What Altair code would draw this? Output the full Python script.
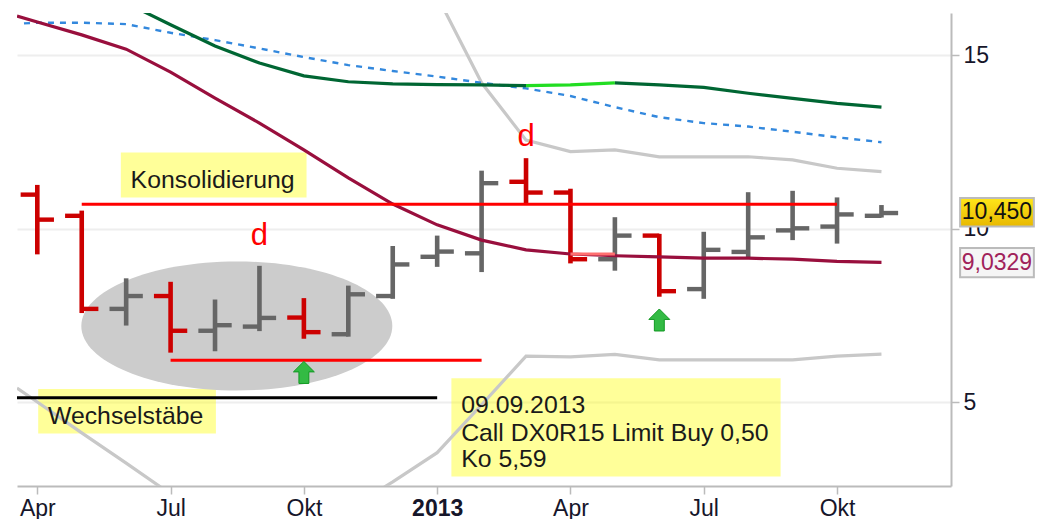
import altair as alt
import pandas as pd

FONT = "Liberation Sans"

# OHLC bars (x in months since Apr 2012)
bar_x = list(range(20))
bar_open = [10.98, 10.37, 7.69, 8.06, 7.06, 7.18, 7.44, 6.96, 8.06, 9.19, 9.29, 11.35, 11.04, 9.12, 9.80, 8.26, 9.33, 9.95, 10.06, 10.37]
bar_high = [11.26, 10.52, 8.57, 8.47, 7.96, 8.93, 8.00, 8.36, 9.50, 9.80, 11.67, 12.03, 11.15, 10.33, 9.85, 9.91, 11.05, 11.09, 10.90, 10.68]
bar_low = [9.26, 7.57, 7.21, 6.43, 6.47, 7.05, 6.83, 6.89, 7.98, 8.90, 8.75, 10.73, 9.00, 8.79, 8.04, 7.98, 9.15, 9.67, 9.57, 10.32]
bar_close = [10.26, 7.69, 8.06, 7.06, 7.22, 7.43, 7.02, 8.11, 8.97, 9.34, 11.31, 11.04, 9.12, 9.80, 8.20, 9.39, 9.75, 10.01, 10.41, 10.45]
bar_color = ["#CC0000", "#CC0000", "#666666", "#CC0000", "#666666", "#666666", "#CC0000", "#666666", "#666666", "#666666",
             "#666666", "#CC0000", "#CC0000", "#666666", "#CC0000", "#666666", "#666666", "#666666", "#666666", "#666666"]
tick_len = 0.375

# Lines
maroon_x = [-0.457, 0, 1, 2, 3, 4, 5, 6, 7, 8, 9, 10, 11, 12, 13, 14, 15, 16, 17, 18, 19]
maroon_y = [16.12, 15.95, 15.58, 15.17, 14.51, 13.76, 13.04, 12.27, 11.46, 10.71, 10.11, 9.67, 9.39, 9.27, 9.22, 9.19, 9.15, 9.15, 9.12, 9.06, 9.03]
green_a_x = [2, 3, 4, 5, 6, 7, 8, 9, 10, 11]
green_a_y = [16.50, 15.87, 15.26, 14.77, 14.40, 14.23, 14.17, 14.15, 14.14, 14.12]
lime_x = [11, 12, 13]
lime_y = [14.12, 14.14, 14.20]
green_b_x = [13, 14, 15, 16, 17, 18, 19]
green_b_y = [14.20, 14.14, 14.07, 13.90, 13.75, 13.61, 13.50]
blue_x = [-0.3, 0, 1, 2, 3, 4, 5, 6, 7, 8, 9, 10, 11, 12, 13, 14, 15, 16, 17, 18, 19]
blue_y = [15.91, 15.93, 15.93, 15.89, 15.64, 15.43, 15.19, 14.94, 14.71, 14.54, 14.38, 14.20, 14.04, 13.82, 13.50, 13.21, 13.04, 12.94, 12.79, 12.63, 12.49]
upper_x = [9, 9.2, 10, 11, 12, 13, 14, 15, 16, 17, 18, 19]
upper_y = [16.76, 16.20, 14.20, 12.55, 12.22, 12.27, 12.07, 12.07, 12.07, 11.98, 11.74, 11.64]
lower_a_x = [-0.457, 0, 1, 2, 3]
lower_a_y = [5.41, 5.01, 4.12, 3.25, 2.36]
lower_b_x = [7, 8, 9, 10, 11, 12, 13, 14, 15, 16, 17, 18, 19]
lower_b_y = [1.91, 2.71, 3.55, 4.93, 6.33, 6.31, 6.38, 6.22, 6.22, 6.22, 6.22, 6.33, 6.39]

# Horizontal drawn lines: start, end, level, colour, width
hline_x = [1, 3, -0.457, 12]
hline_x2 = [18, 10, 9, 13]
hline_y = [10.70, 6.21, 5.13, 9.27]
hline_color = ["#FF0000", "#FF0000", "#000000", "#FF7070"]

# Yellow note boxes
box_x = [1.88, 0.02, 9.32]
box_x2 = [6.06, 4.02, 16.73]
box_y = [12.19, 5.38, 5.69]
box_y2 = [10.90, 4.10, 2.86]

note_text = ["Konsolidierung", "Wechselstäbe", "09.09.2013", "Call DX0R15 Limit Buy 0,50", "Ko 5,59"]
note_x = [2.10, 0.24, 9.54, 9.54, 9.54]
note_y = [11.16, 4.37, 4.69, 3.90, 3.13]

d_x = [5, 11]
d_y = [9.53, 12.38]
arrow_x = [6, 14]
arrow_y = [5.86, 7.37]
ellipse_x = [4.49]
ellipse_y = [7.20]

tick_values = [0, 3, 6, 9, 12, 15, 18]
tick_labels = ["Apr", "Jul", "Okt", "2013", "Apr", "Jul", "Okt"]
y_ticks = [5, 10, 15]

X_DOM = [-0.457, 20.565]
Y_DOM = [2.59, 16.21]

x_scale = alt.Scale(domain=X_DOM, nice=False, zero=False)
y_scale = alt.Scale(domain=Y_DOM, nice=False, zero=False)

label_map = "{" + ",".join(f"'{v}':'{l}'" for v, l in zip(tick_values, tick_labels)) + "}"
x_axis = alt.Axis(
    orient="bottom", values=tick_values, labelExpr=f"{label_map}[datum.value]",
    title=None, grid=False, tickSize=8, tickColor="#BBBBBB", tickWidth=1.5,
    domainColor="#BBBBBB", domainWidth=2, labelFont=FONT, labelFontSize=23,
    labelColor="#16162a", labelPadding=3, labelFlush=False, labelOverlap=False,
    labelFontWeight={"condition": {"test": "datum.value == 9", "value": "bold"}, "value": "normal"},
)
y_axis = alt.Axis(
    orient="right", values=y_ticks, title=None, grid=True, gridColor="#EEEEEE", gridWidth=2,
    tickSize=8, tickColor="#BBBBBB", tickWidth=1.5, domainColor="#BBBBBB", domainWidth=2,
    labelFont=FONT, labelFontSize=23, labelColor="#16162a", labelPadding=4, labelFlush=False,
    labelOverlap=False,
)
X = lambda f: alt.X(f, type="quantitative", scale=x_scale, axis=x_axis)
Y = lambda f: alt.Y(f, type="quantitative", scale=y_scale, axis=y_axis)

boxes = alt.Chart(pd.DataFrame({"x": box_x, "x2": box_x2, "y": box_y, "y2": box_y2})).mark_rect(
    fill="#FFFF00", opacity=0.4).encode(x=X("x"), x2="x2", y=Y("y"), y2="y2")

ELLIPSE = ("M -1 0 C -1 -0.2291 -0.5523 -0.4148 0 -0.4148 C 0.5523 -0.4148 1 -0.2291 1 0 "
           "C 1 0.2291 0.5523 0.4148 0 0.4148 C -0.5523 0.4148 -1 0.2291 -1 0 Z")
ellipse = alt.Chart(pd.DataFrame({"x": ellipse_x, "y": ellipse_y})).mark_point(
    shape=ELLIPSE, filled=True, fill="#CCCCCC", opacity=1, strokeWidth=0, size=96721
).encode(x=X("x"), y=Y("y"))

bars_df = pd.DataFrame({"x": bar_x, "o": bar_open, "h": bar_high, "l": bar_low, "c": bar_close, "col": bar_color})
bars_df["xl"] = bars_df["x"] - tick_len
bars_df["xr"] = bars_df["x"] + tick_len
col = alt.Color("col:N", scale=None)
stems = alt.Chart(bars_df).mark_rule(strokeWidth=4.6).encode(x=X("x"), y=Y("h"), y2="l", color=col)
opens = alt.Chart(bars_df).mark_rule(strokeWidth=4.4).encode(x=X("xl"), x2="x", y=Y("o"), color=col)
closes = alt.Chart(bars_df).mark_rule(strokeWidth=4.4).encode(x=X("x"), x2="xr", y=Y("c"), color=col)


def line(xs, ys, color, width=3.2, **kw):
    return alt.Chart(pd.DataFrame({"x": xs, "y": ys})).mark_line(
        color=color, strokeWidth=width, clip=True, **kw
    ).encode(x=X("x"), y=Y("y"), order=alt.Order("o:Q")).transform_calculate(o="datum.x")


lines = [
    line(upper_x, upper_y, "#C8C8C8"),
    line(lower_a_x, lower_a_y, "#C8C8C8"),
    line(lower_b_x, lower_b_y, "#C8C8C8"),
    line(blue_x, blue_y, "#3388DD", 2.4, strokeDash=[6, 6]),
    line(green_a_x, green_a_y, "#006633"),
    line(lime_x, lime_y, "#22DD22"),
    line(green_b_x, green_b_y, "#006633"),
    line(maroon_x, maroon_y, "#990F3D"),
]

hlines = alt.Chart(pd.DataFrame({"x": hline_x, "x2": hline_x2, "y": hline_y, "col": hline_color})).mark_rule(
    strokeWidth=3).encode(x=X("x"), x2="x2", y=Y("y"), color=col)

ARROW = "M 0 -1 L 0.95 -0.05 L 0.45 -0.05 L 0.45 1 L -0.45 1 L -0.45 -0.05 L -0.95 -0.05 Z"
arrows = alt.Chart(pd.DataFrame({"x": arrow_x, "y": arrow_y})).mark_point(
    shape=ARROW, filled=True, fill="#33BB44", stroke="#119922", strokeWidth=1, opacity=1, size=484
).encode(x=X("x"), y=Y("y"))

notes = alt.Chart(pd.DataFrame({"x": note_x, "y": note_y, "t": note_text})).mark_text(
    align="left", baseline="alphabetic", font=FONT, fontSize=24.8, color="#1a1a1a"
).encode(x=X("x"), y=Y("y"), text="t:N")

ds = alt.Chart(pd.DataFrame({"x": d_x, "y": d_y, "t": ["d", "d"]})).mark_text(
    align="center", baseline="alphabetic", font=FONT, fontSize=31, color="#FF0000"
).encode(x=X("x"), y=Y("y"), text="t:N")

# Last-value boxes to the right of the axis
last_x = [20.77, 20.77]
last_x2 = [22.43, 22.43]
last_y = [10.88, 9.44]
last_y2 = [10.06, 8.60]
last_text = ["10,450", "9,0329"]
last_tx = [21.6, 21.6]
last_ty = [10.47, 9.02]
last_text_color = ["#111111", "#A0225A"]

gold = alt.LinearGradient(gradient="linear", stops=[alt.GradientStop(color="#FFE61A", offset=0),
                                                    alt.GradientStop(color="#E8B800", offset=1)],
                          x1=0, x2=0, y1=0, y2=1)
box_gold = alt.Chart(pd.DataFrame({"x": last_x[:1], "x2": last_x2[:1], "y": last_y[:1], "y2": last_y2[:1]})).mark_rect(
    fill=gold, stroke="#BBBBBB", strokeWidth=2).encode(x=X("x"), x2="x2", y=Y("y"), y2="y2")
box_grey = alt.Chart(pd.DataFrame({"x": last_x[1:], "x2": last_x2[1:], "y": last_y[1:], "y2": last_y2[1:]})).mark_rect(
    fill="#F5F5F5", stroke="#BBBBBB", strokeWidth=2).encode(x=X("x"), x2="x2", y=Y("y"), y2="y2")
last_labels = alt.Chart(pd.DataFrame({"x": last_tx, "y": last_ty, "t": last_text, "col": last_text_color})).mark_text(
    align="center", baseline="middle", font=FONT, fontSize=23
).encode(x=X("x"), y=Y("y"), text="t:N", color=col)

chart = alt.layer(
    boxes, ellipse, stems, opens, closes, *lines, hlines, arrows, notes, ds,
    box_gold, box_grey, last_labels,
).resolve_scale(x="shared", y="shared").properties(
    width=934, height=473,
    autosize=alt.AutoSizeParams(type="none"),
    padding={"left": 9, "top": 5, "right": 84, "bottom": 34},
).configure_view(stroke=None)

chart.save("out.html", embed_options={"renderer": "svg", "actions": False})
